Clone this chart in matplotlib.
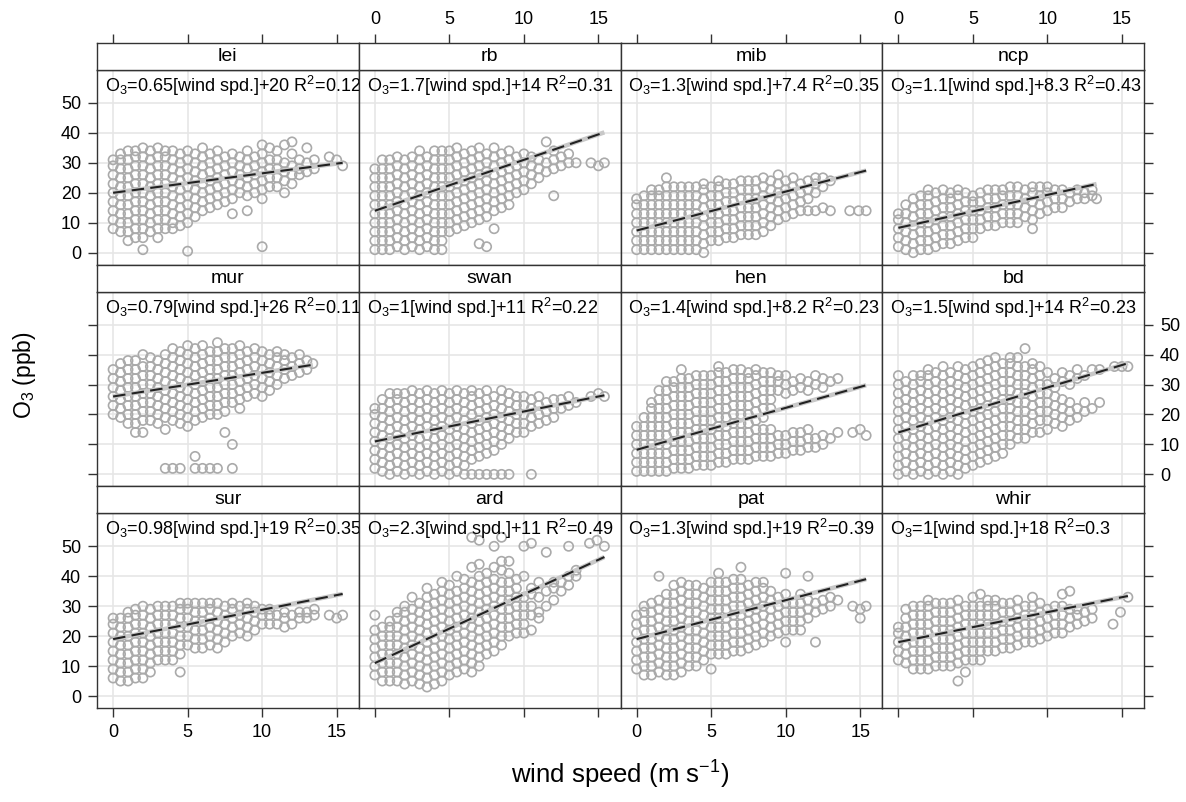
import matplotlib
matplotlib.use("Agg")
import matplotlib.pyplot as plt
import numpy as np

plt.rcParams.update({
    'font.family': ['Liberation Sans', 'DejaVu Sans'],
    'mathtext.default': 'regular',
    'font.size': 13,
})

# panel order as drawn (rows top to bottom, left to right)
sites = ['lei', 'rb', 'mib', 'ncp', 'mur', 'swan', 'hen', 'bd', 'sur', 'ard', 'pat', 'whir']
slope = ['0.65', '1.7', '1.3', '1.1', '0.79', '1', '1.4', '1.5', '0.98', '2.3', '1.3', '1']
icpt = ['20', '14', '7.4', '8.3', '26', '11', '8.2', '14', '19', '11', '19', '18']
r2 = ['0.12', '0.31', '0.35', '0.43', '0.11', '0.22', '0.23', '0.23', '0.35', '0.49', '0.39', '0.3']

# O3 readings (ppb) by wind speed column (m/s)
lei = {0: [8, 11, 14, 17, 20, 23, 26, 29, 31], 0.5: [7, 10, 13, 16, 19, 22, 25, 28, 31, 33],
       1: [4, 7, 10, 13, 16, 19, 22, 25, 28, 31, 34], 1.5: [5, 8, 11, 14, 17, 20, 23, 26, 29, 32, 34],
       2: [1, 5, 8, 11, 14, 17, 20, 23, 26, 29, 32, 35], 2.5: [7, 10, 13, 16, 19, 22, 25, 28, 31, 34],
       3: [5, 8, 11, 14, 17, 20, 23, 26, 29, 32, 35], 3.5: [8, 11, 14, 17, 20, 23, 26, 29, 32, 34],
       4: [8, 10, 13, 16, 19, 22, 25, 28, 31, 34], 4.5: [9, 12, 15, 18, 21, 24, 27, 30, 33],
       5: [0.5, 10, 13, 16, 19, 22, 25, 28, 31, 34], 5.5: [12, 15, 18, 21, 24, 27, 30, 33],
       6: [14, 17, 20, 23, 26, 29, 32, 35], 6.5: [15, 18, 21, 24, 27, 30, 33],
       7: [16, 19, 22, 25, 28, 31, 34], 7.5: [17, 20, 23, 26, 29, 32], 8: [13, 18, 21, 24, 27, 30, 33],
       8.5: [20, 23, 26, 29, 32], 9: [14, 19, 22, 25, 28, 31, 34], 9.5: [20, 23, 26, 29, 32],
       10: [2, 18, 21, 24, 27, 30, 33, 36], 10.5: [22, 25, 28, 31, 35], 11: [22, 25, 28, 31, 34],
       11.5: [20, 24, 27, 30, 36], 12: [23, 26, 29, 33, 37], 12.5: [26, 28, 31], 13: [27, 30, 35],
       13.5: [28, 31], 14.5: [32], 15: [31], 15.4: [29]}
rb = {0: [1, 4, 7, 10, 13, 16, 19, 22, 25, 28], 0.5: [1, 4, 7, 10, 13, 16, 19, 22, 25, 28, 31],
      1: [1, 4, 7, 10, 13, 16, 19, 22, 25, 28, 31], 1.5: [2, 5, 8, 11, 14, 17, 20, 23, 26, 29, 32],
      2: [1, 4, 7, 10, 13, 16, 19, 22, 25, 28, 31], 2.5: [2, 5, 8, 11, 14, 17, 20, 23, 26, 29, 32],
      3: [1, 4, 7, 10, 13, 16, 19, 22, 25, 28, 31, 34], 3.5: [2, 5, 8, 11, 14, 17, 20, 23, 26, 29, 32],
      4: [1, 4, 7, 10, 13, 16, 19, 22, 25, 28, 31, 34], 4.5: [1, 4, 7, 10, 13, 16, 19, 22, 25, 28, 31, 34],
      5: [7, 10, 13, 16, 19, 22, 25, 28, 31, 34], 5.5: [8, 11, 14, 17, 20, 23, 26, 29, 32, 35],
      6: [9, 12, 15, 18, 21, 24, 27, 30, 33], 6.5: [10, 13, 16, 19, 22, 25, 28, 31, 34],
      7: [3, 11, 14, 17, 20, 23, 26, 29, 32, 35], 7.5: [2, 12, 15, 18, 21, 24, 27, 30, 33],
      8: [8, 14, 17, 20, 23, 26, 29, 32, 35], 8.5: [15, 18, 21, 24, 27, 30, 33],
      9: [16, 19, 22, 25, 28, 31, 34], 9.5: [20, 23, 26, 29, 32], 10: [21, 24, 27, 30, 33],
      10.5: [23, 26, 29, 32], 11: [25, 28, 31], 11.5: [27, 30, 37], 12: [19, 28, 31, 34],
      12.5: [29, 32], 13: [30, 33], 13.5: [30], 14.5: [30], 15: [29], 15.4: [30]}
mib = {0: [1, 4, 7, 10, 13, 16, 18], 0.5: [1, 4, 7, 10, 13, 16, 19], 1: [1, 4, 7, 10, 13, 16, 19, 21],
       1.5: [1, 4, 7, 10, 13, 16, 19, 21], 2: [1, 4, 7, 10, 13, 16, 19, 22, 25],
       2.5: [1, 4, 7, 10, 13, 16, 19, 22], 3: [1, 4, 7, 10, 13, 16, 19, 22],
       3.5: [1, 4, 7, 10, 13, 16, 19, 22], 4: [1, 4, 7, 10, 13, 16, 19, 22],
       4.5: [0, 3, 6, 9, 12, 15, 18, 21, 23], 5: [4, 7, 10, 13, 16, 19, 22],
       5.5: [4, 7, 10, 13, 16, 19, 22, 24], 6: [5, 8, 11, 14, 17, 20, 23], 6.5: [5, 8, 11, 14, 17, 20, 23],
       7: [6, 9, 12, 15, 18, 21, 24], 7.5: [6, 9, 12, 15, 18, 21, 24], 8: [6, 9, 12, 15, 18, 21, 24],
       8.5: [7, 10, 13, 16, 19, 22, 25], 9: [9, 12, 15, 18, 21, 24], 9.5: [11, 14, 17, 20, 23, 26],
       10: [12, 15, 18, 21, 24], 10.5: [13, 16, 19, 22, 25], 11: [14, 17, 20, 23], 11.5: [14, 18, 21, 24],
       12: [14, 20, 23, 25], 12.5: [15, 22, 25], 13: [14, 24], 14.3: [14], 14.9: [14], 15.4: [14]}
ncp = {0: [2, 5, 8, 11, 13], 0.5: [1, 4, 7, 10, 13, 16], 1: [0, 3, 6, 9, 12, 15, 18],
       1.5: [1, 4, 7, 10, 13, 16, 19], 2: [1, 4, 7, 10, 13, 16, 19, 21], 2.5: [2, 5, 8, 11, 14, 17, 20],
       3: [3, 6, 9, 12, 15, 18, 21], 3.5: [3, 6, 9, 12, 15, 18, 20], 4: [4, 7, 10, 13, 16, 19, 21],
       4.5: [5, 8, 11, 14, 17, 20], 5: [5, 8, 11, 14, 17, 19], 5.5: [8, 11, 14, 17, 20],
       6: [9, 12, 15, 18, 21], 6.5: [9, 12, 15, 18, 21], 7: [10, 13, 16, 19, 21], 7.5: [10, 13, 16, 19, 22],
       8: [10, 13, 16, 19, 22], 8.5: [12, 15, 18, 21], 9: [8, 11, 14, 17, 20, 22], 9.5: [13, 16, 19, 22],
       10: [14, 17, 20, 22], 10.5: [15, 18, 21], 11: [15, 18, 21], 11.5: [17, 20], 12: [18, 21],
       12.5: [18, 20], 13: [19, 21], 13.3: [18]}
mur = {0: [20, 23, 26, 29, 32, 35], 0.5: [19, 22, 25, 28, 31, 34, 37], 1: [17, 20, 23, 26, 29, 32, 35, 38],
       1.5: [14, 17, 20, 23, 26, 29, 32, 35, 38], 2: [14, 18, 21, 24, 27, 30, 33, 36, 40],
       2.5: [18, 21, 24, 27, 30, 33, 36, 39], 3: [17, 20, 23, 26, 29, 32, 35, 38],
       3.5: [2, 15, 19, 22, 25, 28, 31, 34, 37, 40], 4: [2, 18, 21, 24, 27, 30, 33, 36, 39, 42],
       4.5: [2, 17, 20, 23, 26, 29, 32, 35, 38, 41], 5: [16, 19, 22, 25, 28, 31, 34, 37, 40, 43],
       5.5: [2, 6, 18, 21, 24, 27, 30, 33, 36, 39, 42], 6: [2, 19, 22, 25, 28, 31, 34, 37, 40, 43],
       6.5: [2, 20, 23, 26, 29, 32, 35, 38, 41], 7: [2, 20, 23, 26, 29, 32, 35, 38, 41, 44],
       7.5: [14, 21, 24, 27, 30, 33, 36, 39, 42], 8: [2, 10, 24, 27, 30, 33, 36, 39, 42],
       8.5: [22, 25, 28, 31, 34, 37, 40, 43], 9: [26, 29, 32, 35, 38, 41], 9.5: [27, 30, 33, 36, 39, 42],
       10: [26, 29, 32, 35, 38, 41], 10.5: [28, 31, 34, 37, 40], 11: [30, 33, 36, 39, 41],
       11.5: [32, 35, 38, 40], 12: [33, 36, 39], 12.5: [34, 37, 40], 13: [35, 38], 13.4: [37]}
swan = {0: [2, 5, 8, 11, 14, 17, 20, 22], 0.5: [1, 4, 7, 10, 13, 16, 19, 22, 25],
        1: [0, 3, 6, 9, 12, 15, 18, 21, 24, 27], 1.5: [1, 4, 7, 10, 13, 16, 19, 22, 25, 27],
        2: [0, 3, 6, 9, 12, 15, 18, 21, 24, 27], 2.5: [1, 4, 7, 10, 13, 16, 19, 22, 25, 28],
        3: [0, 3, 6, 9, 12, 15, 18, 21, 24, 27], 3.5: [1, 4, 7, 10, 13, 16, 19, 22, 25, 28],
        4: [0, 3, 6, 9, 12, 15, 18, 21, 24, 27], 4.5: [1, 4, 7, 10, 13, 16, 19, 22, 25, 28],
        5: [0, 3, 6, 9, 12, 15, 18, 21, 24, 27], 5.5: [1, 4, 7, 10, 13, 16, 19, 22, 25, 28],
        6: [0, 3, 6, 9, 12, 15, 18, 21, 24, 27], 6.5: [0, 5, 8, 11, 14, 17, 20, 23, 26, 28],
        7: [0, 6, 9, 12, 15, 18, 21, 24, 27], 7.5: [0, 7, 10, 13, 16, 19, 22, 25, 28],
        8: [0, 8, 11, 14, 17, 20, 23, 26], 8.5: [0, 10, 13, 16, 19, 22, 25, 28],
        9: [0, 12, 15, 18, 21, 24, 27], 9.5: [14, 17, 20, 23, 26], 10: [14, 17, 20, 23, 26],
        10.5: [0, 16, 19, 22, 25], 11: [17, 20, 23, 26], 11.5: [18, 21, 24], 12: [19, 22, 25],
        12.5: [22, 25], 13: [23, 26], 13.5: [24], 14.5: [26], 15: [27], 15.4: [26]}
hen = {0: [1, 4, 7, 10, 13, 16], 0.5: [1, 4, 7, 10, 13, 16, 19], 1: [1, 4, 7, 10, 13, 16, 19, 22, 24],
       1.5: [1, 4, 7, 10, 13, 16, 19, 22, 25, 28], 2: [1, 4, 7, 10, 13, 16, 19, 22, 25, 28, 31],
       2.5: [2, 5, 8, 11, 14, 17, 20, 23, 26, 29, 31], 3: [2, 5, 8, 11, 14, 17, 20, 23, 26, 29, 32, 35],
       3.5: [2, 5, 8, 11, 14, 17, 20, 23, 26, 29, 32], 4: [3, 6, 9, 12, 15, 18, 21, 24, 27, 30, 33],
       4.5: [3, 6, 9, 12, 15, 18, 21, 24, 27, 30, 33], 5: [3, 6, 9, 12, 15, 18, 21, 24, 27, 30, 33],
       5.5: [4, 7, 10, 13, 16, 19, 22, 25, 28, 31, 34, 36], 6: [4, 7, 10, 13, 16, 19, 22, 25, 28, 31, 34],
       6.5: [5, 8, 11, 14, 17, 20, 23, 26, 29, 32, 35], 7: [5, 8, 11, 14, 17, 20, 23, 26, 29, 32, 35],
       7.5: [5, 8, 11, 14, 17, 20, 23, 26, 29, 32, 34], 8: [6, 9, 12, 15, 18, 21, 24, 27, 30, 33, 35],
       8.5: [6, 9, 12, 15, 19, 22, 25, 28, 31, 34], 9: [6, 9, 12, 15, 22, 25, 28, 31, 34],
       9.5: [7, 10, 13, 28, 31, 33], 10: [7, 10, 13, 27, 30, 33], 10.5: [8, 11, 14, 28, 31],
       11: [8, 11, 14, 29, 32], 11.5: [9, 12, 15, 28, 31], 12: [9, 12, 30, 33], 12.5: [10, 13, 29, 32],
       13: [12, 31], 13.5: [14, 32], 14.5: [14], 15: [15], 15.4: [13]}
bd = {0: [0, 3, 6, 9, 12, 15, 18, 21, 24, 27, 30, 33], 0.5: [1, 4, 7, 10, 13, 16, 19, 22, 25, 28, 31],
      1: [0, 3, 6, 9, 12, 15, 18, 21, 24, 27, 30, 33], 1.5: [1, 4, 7, 10, 13, 16, 19, 22, 25, 28, 31, 33],
      2: [0, 3, 6, 9, 12, 15, 18, 21, 24, 27, 30, 33, 35], 2.5: [1, 4, 7, 10, 13, 16, 19, 22, 25, 28, 31, 34],
      3: [0, 3, 6, 9, 12, 15, 18, 21, 24, 27, 30, 33, 36], 3.5: [1, 4, 7, 10, 13, 16, 19, 22, 25, 28, 31, 34],
      4: [0, 3, 6, 9, 12, 15, 18, 21, 24, 27, 30, 33, 36], 4.5: [2, 5, 8, 11, 14, 17, 20, 23, 26, 29, 32, 35],
      5: [3, 6, 9, 12, 15, 18, 21, 24, 27, 30, 33, 36], 5.5: [4, 7, 10, 13, 16, 19, 22, 25, 28, 31, 34, 37],
      6: [5, 8, 11, 14, 17, 20, 23, 26, 29, 32, 35, 38], 6.5: [6, 9, 12, 15, 18, 21, 24, 27, 30, 33, 36, 39],
      7: [7, 10, 13, 16, 19, 22, 25, 28, 31, 34, 37], 7.5: [10, 13, 16, 19, 22, 25, 28, 31, 34, 37, 39],
      8: [12, 15, 18, 21, 24, 27, 30, 33, 36, 39], 8.5: [12, 15, 18, 21, 24, 27, 30, 33, 36, 42],
      9: [14, 17, 20, 23, 26, 29, 32, 35, 37], 9.5: [14, 18, 21, 24, 27, 30, 33, 36],
      10: [15, 18, 21, 24, 27, 30, 34], 10.5: [17, 20, 23, 26, 29, 32], 11: [16, 19, 22, 25, 31, 34],
      11.5: [18, 21, 24, 30, 33], 12: [19, 22, 32, 35], 12.5: [21, 24, 33], 13: [22, 35], 13.5: [24, 35],
      14.5: [36], 15: [36], 15.4: [36]}
sur = {0: [6, 9, 12, 15, 18, 21, 24, 26], 0.5: [5, 8, 11, 14, 17, 20, 23, 26],
       1: [5, 8, 11, 14, 17, 20, 23, 26, 28], 1.5: [6, 9, 12, 15, 18, 21, 24, 27, 29],
       2: [6, 9, 12, 15, 18, 21, 24, 27, 30], 2.5: [8, 11, 14, 17, 20, 23, 26, 29],
       3: [12, 15, 18, 21, 24, 27, 30], 3.5: [12, 15, 18, 21, 24, 27, 30], 4: [12, 15, 18, 21, 24, 27, 30],
       4.5: [8, 14, 17, 20, 23, 26, 29, 31], 5: [17, 20, 23, 26, 29, 31], 5.5: [16, 19, 22, 25, 28, 31],
       6: [16, 19, 22, 25, 28, 31], 6.5: [17, 20, 23, 26, 29, 31], 7: [16, 19, 22, 25, 28, 31],
       7.5: [18, 21, 24, 27, 30], 8: [20, 23, 26, 29, 31], 8.5: [21, 24, 27, 30], 9: [20, 23, 26, 29, 31],
       9.5: [22, 25, 28, 30], 10: [24, 27, 29], 10.5: [24, 27, 29], 11: [24, 27], 11.5: [23, 26, 28],
       12: [24, 27], 12.5: [26, 28], 13: [26, 28], 13.5: [27, 29], 14.5: [27], 15: [26], 15.4: [27]}
ard = {0: [7, 10, 13, 16, 19, 22, 27], 0.5: [5, 8, 11, 14, 17, 20, 23], 1: [5, 8, 11, 14, 17, 20, 23, 25],
       1.5: [5, 8, 11, 14, 17, 20, 23, 26, 28], 2: [4, 7, 10, 13, 16, 19, 22, 25, 28, 30],
       2.5: [5, 8, 11, 14, 17, 20, 23, 26, 29, 33], 3: [4, 7, 10, 13, 16, 19, 22, 25, 28, 31],
       3.5: [3, 6, 9, 12, 15, 18, 21, 24, 27, 30, 33, 36], 4: [4, 7, 10, 13, 16, 19, 22, 25, 28, 31, 34],
       4.5: [5, 8, 11, 14, 17, 20, 23, 26, 29, 32, 35, 38], 5: [7, 10, 13, 16, 19, 22, 25, 28, 31, 34, 37],
       5.5: [8, 11, 14, 17, 20, 23, 26, 29, 32, 35, 40], 6: [9, 12, 15, 18, 21, 24, 27, 30, 33, 36, 39],
       6.5: [8, 11, 14, 17, 20, 23, 26, 29, 32, 35, 38, 43, 53],
       7: [10, 13, 16, 19, 22, 25, 28, 31, 34, 37, 40, 44, 52],
       7.5: [14, 17, 20, 23, 26, 29, 32, 35, 38, 41], 8: [15, 18, 21, 24, 27, 30, 33, 36, 39, 43, 50],
       8.5: [17, 20, 23, 26, 29, 32, 35, 38, 42, 45, 53], 9: [20, 23, 26, 29, 32, 35, 38, 41, 45],
       9.5: [21, 24, 27, 30, 33, 36, 39], 10: [21, 24, 27, 30, 33, 40, 50], 10.5: [22, 27, 30, 34, 36, 51],
       11: [26, 28, 33, 38], 11.5: [30, 35, 48], 12: [32, 36, 38], 12.5: [35, 38], 13: [37, 40, 50],
       13.5: [40, 42], 14.4: [51], 14.9: [52], 15.4: [50]}
pat = {0: [9, 12, 15, 18, 21, 24, 27], 0.5: [7, 10, 13, 16, 19, 22, 25, 28, 30],
       1: [7, 10, 13, 16, 19, 22, 25, 28, 31], 1.5: [8, 11, 14, 17, 20, 23, 26, 29, 32, 40],
       2: [7, 10, 13, 16, 19, 22, 25, 28, 31, 34], 2.5: [7, 10, 13, 16, 19, 22, 25, 28, 31, 34, 37],
       3: [8, 11, 14, 17, 20, 23, 26, 29, 32, 35, 38], 3.5: [10, 13, 16, 19, 22, 25, 28, 31, 34, 37],
       4: [10, 13, 16, 19, 22, 25, 28, 31, 34, 37], 4.5: [12, 15, 18, 21, 24, 27, 30, 33, 36],
       5: [9, 14, 17, 20, 23, 26, 29, 32, 35, 38], 5.5: [14, 17, 20, 23, 26, 29, 32, 35, 38, 41],
       6: [14, 17, 20, 23, 26, 29, 32, 35, 38], 6.5: [15, 18, 21, 24, 27, 30, 33, 36, 39],
       7: [15, 18, 21, 24, 27, 30, 33, 36, 39, 43], 7.5: [16, 19, 22, 25, 28, 31, 34, 37],
       8: [17, 20, 23, 26, 29, 32, 35, 38], 8.5: [18, 21, 24, 27, 30, 33, 36, 38],
       9: [20, 23, 26, 29, 32, 35], 9.5: [21, 24, 27, 30, 33], 10: [18, 22, 25, 28, 31, 34, 41],
       10.5: [22, 25, 28, 31], 11: [22, 25, 28, 31, 34], 11.5: [26, 29, 32, 40], 12: [18, 28, 31],
       12.5: [29, 32], 13: [30, 33], 13.5: [32], 14.5: [30], 15: [26, 29], 15.4: [30]}
whir = {0: [12, 15, 18, 21, 23], 0.5: [11, 14, 17, 20, 23, 26, 29], 1: [9, 12, 15, 18, 21, 24, 27, 30],
        1.5: [9, 12, 15, 18, 21, 24, 27, 30], 2: [9, 12, 15, 18, 21, 24, 27, 30, 32],
        2.5: [10, 13, 16, 19, 22, 25, 28, 31], 3: [10, 13, 16, 19, 22, 25, 28, 31],
        3.5: [10, 13, 16, 19, 22, 25, 28, 31], 4: [5, 11, 14, 17, 20, 23, 26, 29, 32],
        4.5: [8, 12, 15, 18, 21, 24, 27, 30], 5: [12, 15, 18, 21, 24, 27, 30, 33],
        5.5: [12, 15, 18, 21, 24, 27, 30, 34], 6: [15, 18, 21, 24, 27, 30, 32],
        6.5: [15, 18, 21, 24, 27, 30, 32], 7: [16, 19, 22, 25, 28, 31], 7.5: [16, 19, 22, 25, 28, 31],
        8: [17, 20, 23, 26, 29, 32], 8.5: [18, 21, 24, 27, 30], 9: [18, 21, 24, 27, 30, 33],
        9.5: [19, 22, 25, 28, 31], 10: [20, 23, 26, 29], 10.5: [21, 24, 27, 30], 11: [21, 24, 27, 30, 34],
        11.5: [23, 26, 29, 35], 12: [24, 27, 29], 12.5: [25, 28], 13: [26, 29], 14.4: [24], 14.9: [28],
        15.4: [33]}
panels = [lei, rb, mib, ncp, mur, swan, hen, bd, sur, ard, pat, whir]

xticks = [0, 5, 10, 15]
yticks = [0, 10, 20, 30, 40, 50]

W, H = 1186, 802
fig = plt.figure(figsize=(W / 100, H / 100), dpi=100)
left0, pw = 97, 261.75
top0, sh, ph = 43, 27, 194.67
edge = '#333333'

for i, site in enumerate(sites):
    r, c = divmod(i, 4)
    x0 = left0 + c * pw
    ytop = top0 + r * (sh + ph)
    ax = fig.add_axes([x0 / W, 1 - (ytop + sh + ph) / H, pw / W, ph / H])
    st = fig.add_axes([x0 / W, 1 - (ytop + sh) / H, pw / W, sh / H])

    cols = panels[i]
    xs = np.concatenate([[k] * len(v) for k, v in cols.items()])
    ys = np.concatenate([v for v in cols.values()])
    ax.scatter(xs, ys, s=44, facecolors='none', edgecolors='#aaaaaa', linewidths=1.2, zorder=2)
    xx = np.array([xs.min(), xs.max()])
    ax.plot(xx, float(icpt[i]) + float(slope[i]) * xx, color='#c8c8c8', lw=3.2,
            solid_capstyle='butt', zorder=3)
    ax.plot(xx, float(icpt[i]) + float(slope[i]) * xx, color='#222222', lw=1.5,
            dashes=(6, 3), zorder=4)
    ax.text(8 / pw, 1 - 4 / ph,
            'O$_3$=' + slope[i] + '[wind spd.]+' + icpt[i] + ' R$^2$=' + r2[i],
            transform=ax.transAxes, ha='left', va='top', fontsize=13, clip_on=True)

    ax.set_xlim(-1.08, 16.48)
    ax.set_ylim(-4, 61)
    ax.set_xticks(xticks)
    ax.set_yticks(yticks)
    ax.grid(color='#e6e6e6', lw=1.2)
    ax.set_axisbelow(True)
    ax.tick_params(direction='out', length=6.5, width=1, color=edge, pad=5, labelsize=13,
                   bottom=(r == 2), labelbottom=(r == 2 and c in (0, 2)),
                   top=False, labeltop=False,
                   left=(c == 0), labelleft=(c == 0 and r != 1),
                   right=(c == 3), labelright=(c == 3 and r == 1))

    st.set_xlim(-1.08, 16.48)
    st.set_xticks(xticks)
    st.set_yticks([])
    st.tick_params(direction='out', length=6.5, width=1, color=edge, pad=4, labelsize=13,
                   bottom=False, labelbottom=False,
                   top=(r == 0), labeltop=(r == 0 and c in (1, 3)))
    st.text(0.5, 0.5, site, transform=st.transAxes, ha='center', va='center', fontsize=14)
    for a in (ax, st):
        for sp in a.spines.values():
            sp.set_color(edge)
            sp.set_linewidth(1)

fig.text(620 / W, 1 - 775 / H, 'wind speed (m s$^{-1}$)', ha='center', va='center', fontsize=18.5)
fig.text(24 / W, 1 - 375 / H, 'O$_3$ (ppb)', ha='center', va='center', rotation=90, fontsize=16.5)

fig.savefig('out.png', dpi=100)
